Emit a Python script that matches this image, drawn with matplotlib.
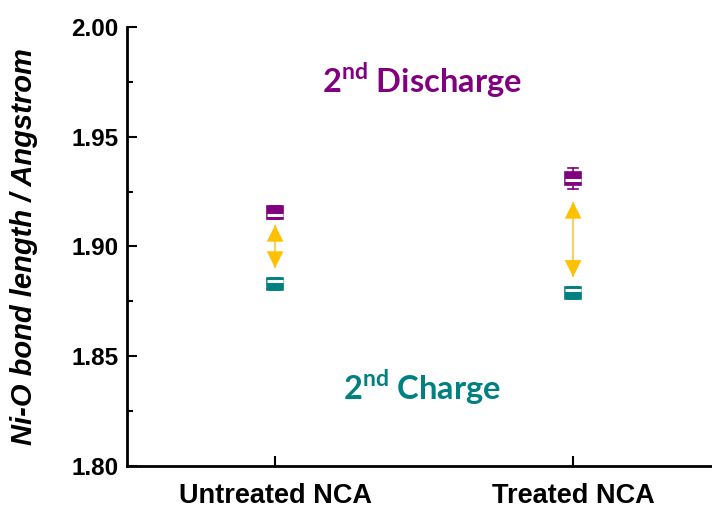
import matplotlib
matplotlib.use("Agg")
import matplotlib.pyplot as plt
from matplotlib.ticker import MultipleLocator

# ---- data ----
categories = ["Untreated NCA", "Treated NCA"]
positions = [1, 2]
# 2nd discharge boxes (q1, median, q3, whislo, whishi)
discharge_q1 = [1.9125, 1.9282]
discharge_med = [1.9145, 1.9302]
discharge_q3 = [1.9185, 1.9338]
discharge_lo = [1.9125, 1.9262]
discharge_hi = [1.9185, 1.9358]
# 2nd charge boxes
charge_q1 = [1.8802, 1.8762]
charge_med = [1.8843, 1.8802]
charge_q3 = [1.8856, 1.8815]
charge_lo = [1.8802, 1.8762]
charge_hi = [1.8856, 1.8815]
# arrows (bottom tip, top tip)
arrow_low = [1.8902, 1.8862]
arrow_high = [1.9098, 1.9203]
yticks = [1.80, 1.85, 1.90, 1.95, 2.00]

purple = "#800080"
teal = "#008080"
gold = "#FFC000"
light_gold = "#F3D36A"

plt.rcParams["mathtext.fontset"] = "custom"
plt.rcParams["mathtext.bf"] = "Lato:bold"
plt.rcParams["mathtext.rm"] = "Lato:bold"

fig = plt.figure(figsize=(7.12, 5.14), dpi=100)
ax = fig.add_axes([0.1784, 0.0934, 0.8216, 0.8541])

def stats(q1, med, q3, lo, hi):
    return [dict(q1=a, med=b, q3=c, whislo=d, whishi=e, fliers=[])
            for a, b, c, d, e in zip(q1, med, q3, lo, hi)]

for st, col in [(stats(discharge_q1, discharge_med, discharge_q3, discharge_lo, discharge_hi), purple),
                (stats(charge_q1, charge_med, charge_q3, charge_lo, charge_hi), teal)]:
    ax.bxp(st, positions=positions, widths=0.052, patch_artist=True, showfliers=False,
           boxprops=dict(facecolor=col, edgecolor=col, linewidth=1.2),
           medianprops=dict(color="white", linewidth=2.2),
           whiskerprops=dict(color=col, linewidth=1.2),
           capprops=dict(color=col, linewidth=1.2),
           capwidths=0.035, manage_ticks=False, zorder=3)

for x, lo, hi in zip(positions, arrow_low, arrow_high):
    ax.vlines(x, lo, hi, color=light_gold, linewidth=1.6, zorder=2)
    ax.annotate("", xy=(x, hi), xytext=(x, lo),
                arrowprops=dict(arrowstyle="<|-|>,head_length=1.2,head_width=0.6",
                                color=gold, linewidth=0.01, shrinkA=0, shrinkB=0),
                zorder=4)

ax.set_xlim(0.503, 2.466)
ax.set_ylim(1.80, 2.00)
ax.set_xticks(positions)
ax.set_xticklabels(categories)
ax.set_yticks(yticks)
ax.set_yticklabels([f"{v:.2f}" for v in yticks])
ax.yaxis.set_minor_locator(MultipleLocator(0.025))

for s in ["top", "right"]:
    ax.spines[s].set_visible(False)
for s in ["left", "bottom"]:
    ax.spines[s].set_linewidth(2.0)

ax.tick_params(axis="both", which="major", direction="in", length=7, width=1.5)
ax.tick_params(axis="y", which="minor", direction="in", length=4, width=1.5)
ax.tick_params(axis="y", pad=6)
ax.tick_params(axis="x", pad=12)
for lab in ax.get_yticklabels():
    lab.set_fontfamily("Liberation Sans"); lab.set_fontweight("bold"); lab.set_fontsize(17.5)
for lab in ax.get_xticklabels():
    lab.set_fontfamily("Liberation Sans"); lab.set_fontweight("bold"); lab.set_fontsize(19.5)

ax.set_ylabel("Ni-O bond length / Angstrom", fontfamily="Liberation Sans",
              fontweight="bold", fontstyle="italic", fontsize=21)
ax.yaxis.set_label_coords(-0.153, 0.5)

ax.text(0.503 + (422 - 127) / 298.0, 1.80 + (466 - 80) / 2195.0,
        r"2$^{\mathbf{nd}}$ Discharge", color=purple, fontfamily="Lato",
        fontweight="bold", fontsize=23.5, ha="center", va="center")
ax.text(0.503 + (422 - 127) / 298.0, 1.80 + (466 - 387) / 2195.0,
        r"2$^{\mathbf{nd}}$ Charge", color=teal, fontfamily="Lato",
        fontweight="bold", fontsize=23.5, ha="center", va="center")

fig.savefig("out.png", dpi=100)
